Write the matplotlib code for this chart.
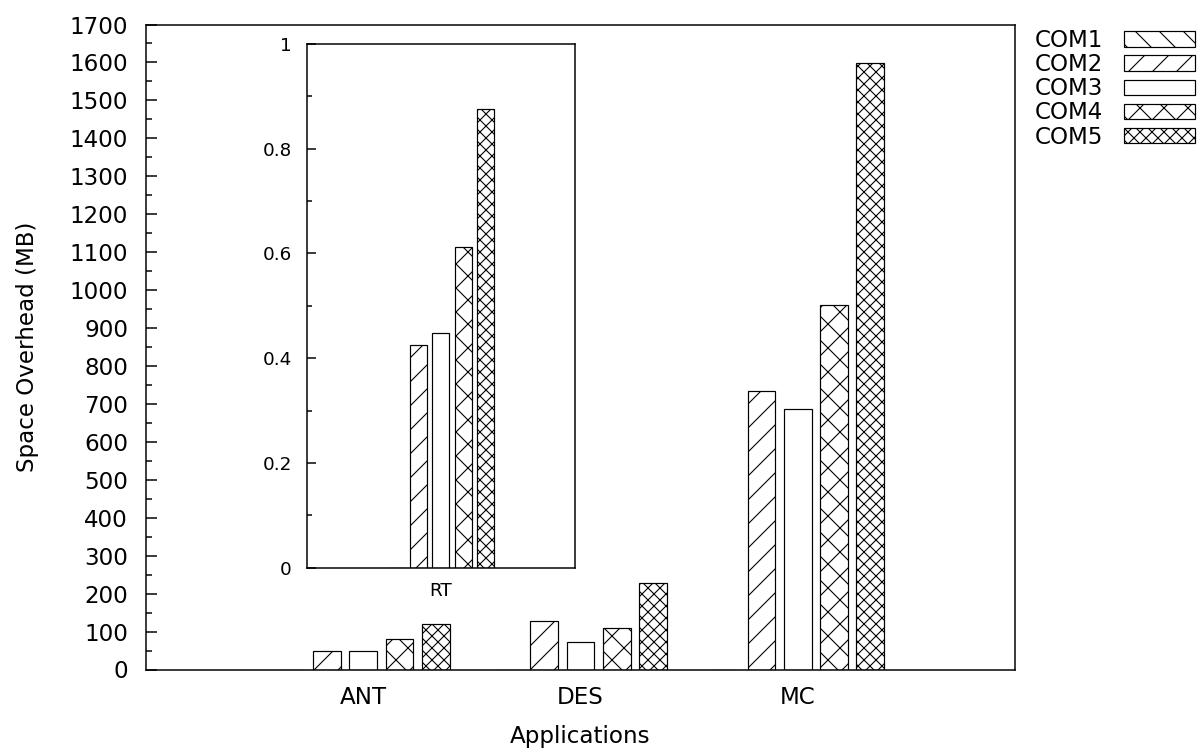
import numpy as np
import matplotlib.pyplot as plt

# Date
aplicatii = ["ANT", "DES", "MC"]
serii = ["COM1", "COM2", "COM3", "COM4", "COM5"]
com1 = [0, 0, 0]
com2 = [48, 127, 733]
com3 = [49.5, 73, 687]
com4 = [80, 109, 960]
com5 = [119, 227, 1599]

# Inset (RT)
inset_cat = ["RT"]
rt_com1 = [0]
rt_com2 = [0.425]
rt_com3 = [0.448]
rt_com4 = [0.613]
rt_com5 = [0.876]

hatches = ["\\\\", "//", "", "xx", "xxxx"]

plt.rcParams["font.family"] = "DejaVu Sans"
plt.rcParams["hatch.linewidth"] = 0.55

fig = plt.figure(figsize=(1199 / 144, 752 / 144), dpi=144)

# Grafic principal
ax = fig.add_axes([146 / 1199, 1 - 669.5 / 752, (1015 - 146) / 1199, (669.5 - 24.5) / 752])
x = np.arange(len(aplicatii))
latime = 0.128
valori = [com1, com2, com3, com4, com5]
for k, (nume, v) in enumerate(zip(serii, valori)):
    ax.bar(x + (k - 2) / 6, v, latime, facecolor="white", edgecolor="black",
           linewidth=0.6, hatch=hatches[k], label=nume)

ax.set_xlim(-1, 3)
ax.set_ylim(0, 1700)
ax.set_xticks(x)
ax.set_xticklabels(aplicatii)
ax.set_yticks(np.arange(0, 1701, 100))
ax.set_yticks(np.arange(50, 1700, 100), minor=True)
ax.tick_params(axis="x", length=0, pad=8.5, labelsize=11.5)
ax.tick_params(axis="y", which="major", direction="in", length=5.5, width=0.75, pad=9, labelsize=11.5)
ax.tick_params(axis="y", which="minor", direction="in", length=2.8, width=0.75)
for s in ax.spines.values():
    s.set_linewidth(0.75)
ax.set_xlabel("Applications", fontsize=11.5, labelpad=8)
ax.set_ylabel("Space Overhead (MB)", fontsize=11.5, labelpad=15)

# Legenda (eticheta inainte de simbol)
fig.legend(loc="upper left", bbox_to_anchor=(1035 / 1199, 1 - 29 / 752),
           frameon=False, markerfirst=False, fontsize=11.5,
           handlelength=3.1, handleheight=0.65, handletextpad=0.9,
           labelspacing=0.05, borderpad=0, borderaxespad=0)

# Inset RT
axi = fig.add_axes([306.7 / 1199, 1 - 567.7 / 752, (575 - 306.7) / 1199, (567.7 - 44) / 752])
xi = np.arange(len(inset_cat))
valori_rt = [rt_com1, rt_com2, rt_com3, rt_com4, rt_com5]
for k, v in enumerate(valori_rt):
    axi.bar(xi + (k - 2) / 6, v, latime, facecolor="white", edgecolor="black",
            linewidth=0.6, hatch=hatches[k])

axi.set_xlim(-1, 1)
axi.set_ylim(0, 1)
axi.set_xticks(xi)
axi.set_xticklabels(inset_cat)
axi.set_yticks([0, 0.2, 0.4, 0.6, 0.8, 1])
axi.set_yticklabels(["0", "0.2", "0.4", "0.6", "0.8", "1"])
axi.set_yticks(np.arange(0.1, 1, 0.2), minor=True)
axi.tick_params(axis="x", length=0, pad=7, labelsize=9.2)
axi.tick_params(axis="y", which="major", direction="in", length=4.6, width=0.75, pad=7.5, labelsize=9.2)
axi.tick_params(axis="y", which="minor", direction="in", length=2.5, width=0.75)
for s in axi.spines.values():
    s.set_linewidth(0.75)

fig.savefig("out.png", dpi=144)
